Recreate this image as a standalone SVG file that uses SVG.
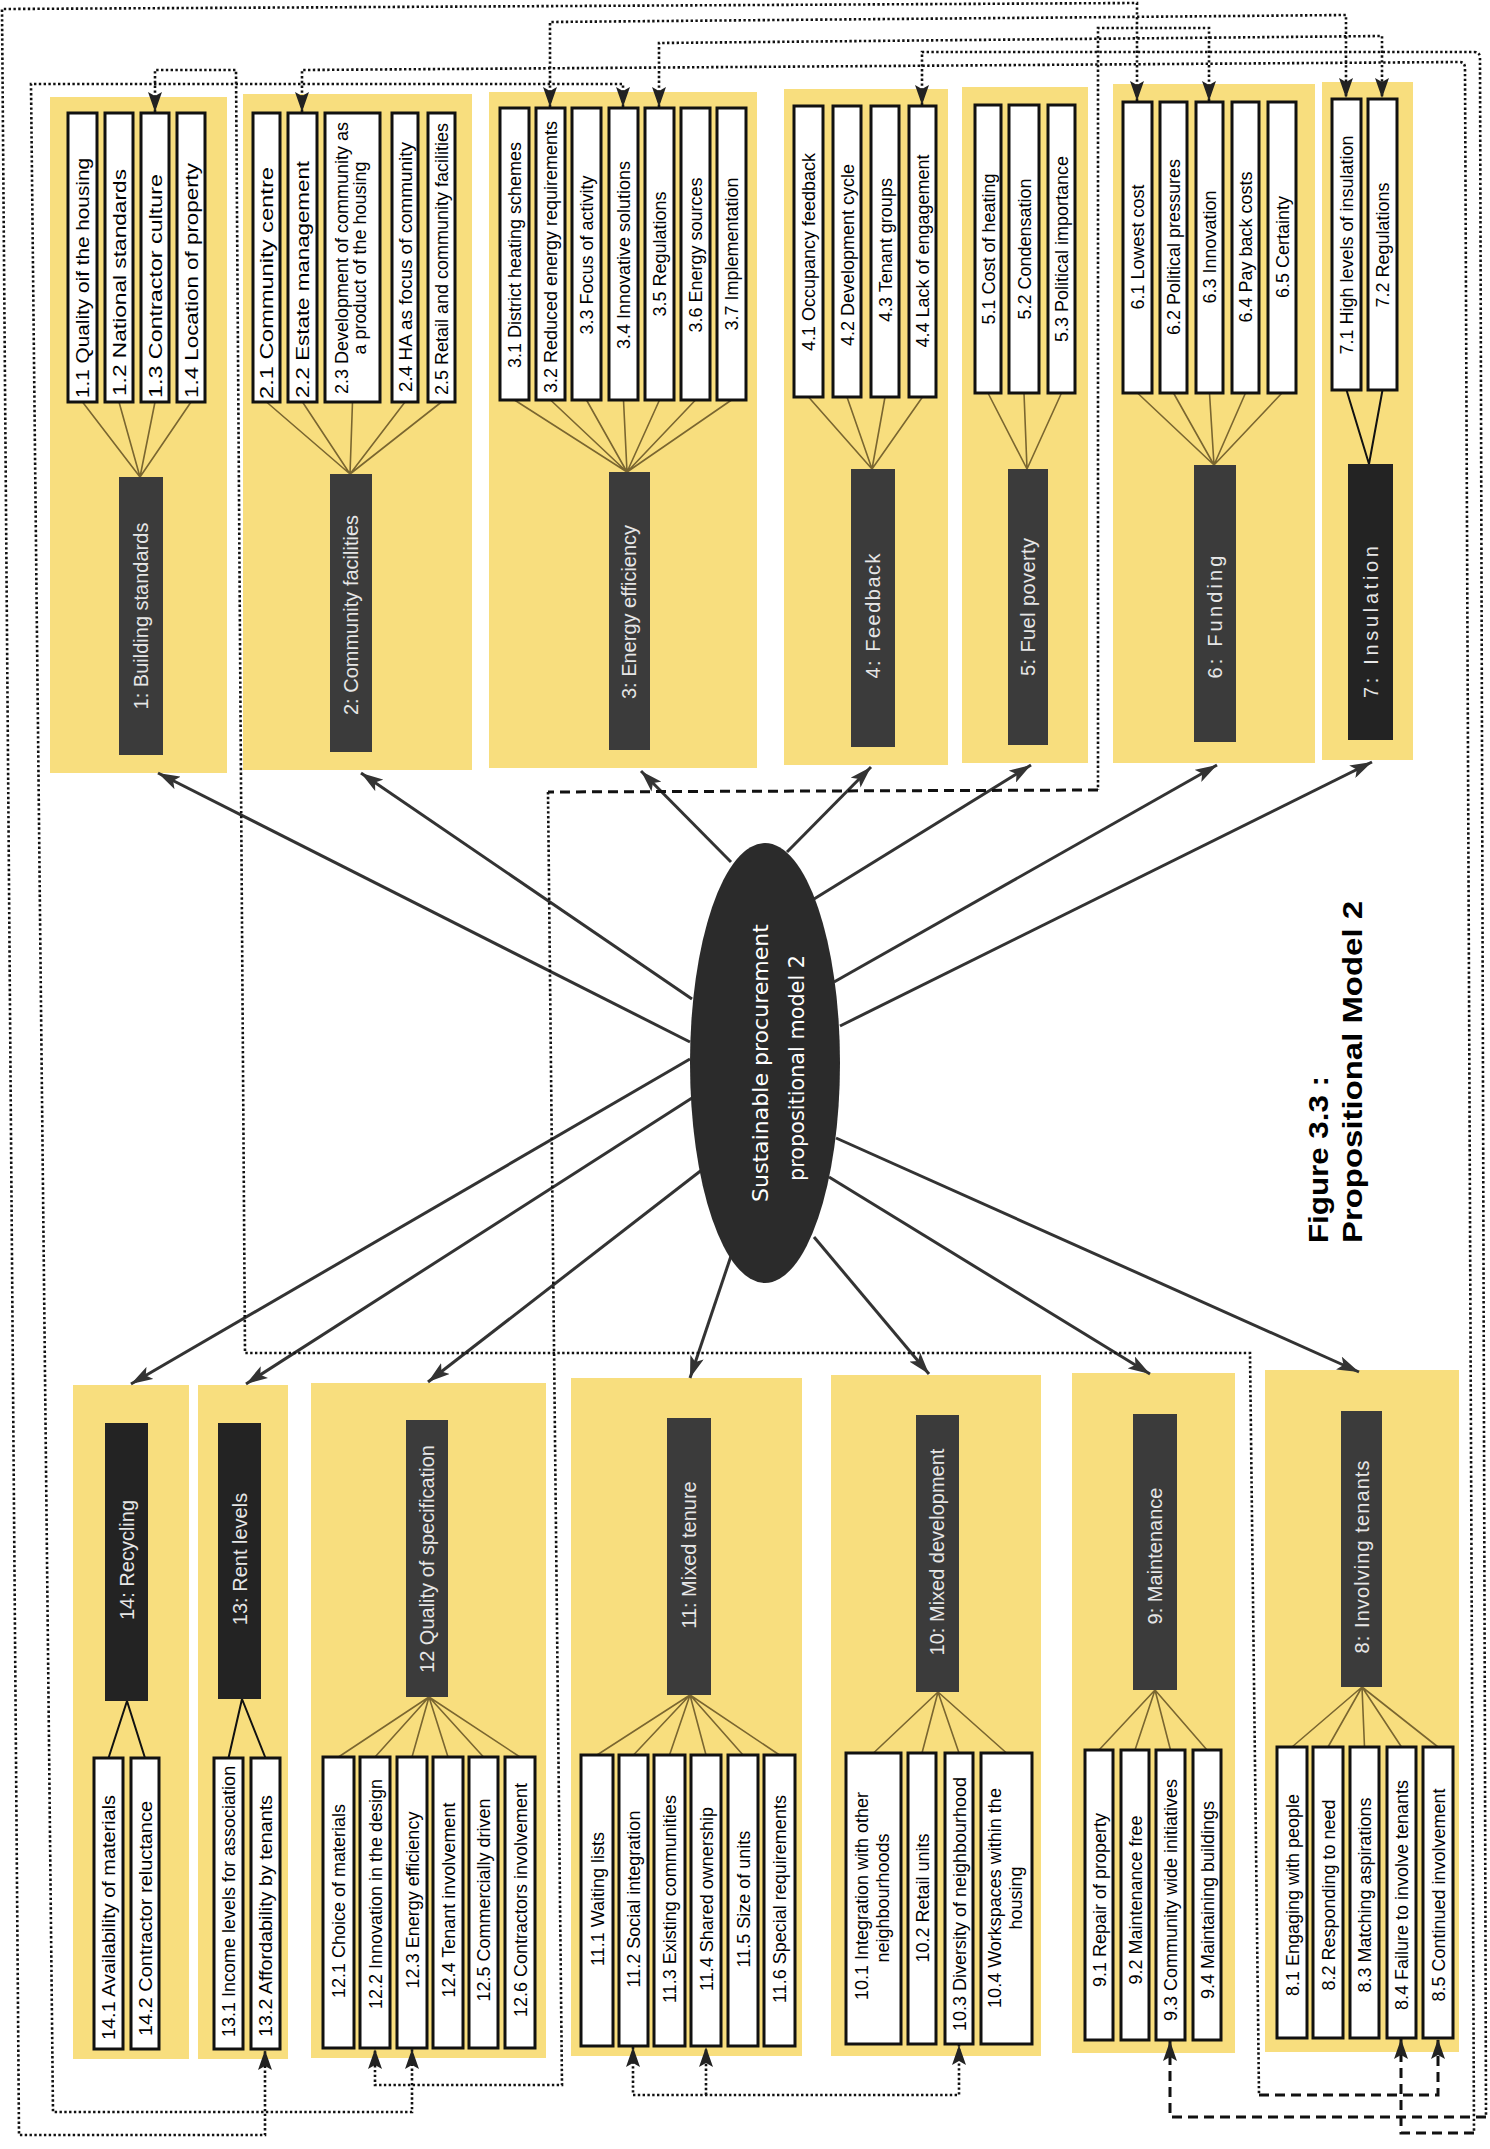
<svg xmlns="http://www.w3.org/2000/svg" width="1490" height="2149" viewBox="0 0 1490 2149">
<style>
.bg{fill:#ffffff}
.panel{fill:#f8de7e}
.item{fill:#ffffff;stroke:#111;stroke-width:3}
.dark{fill:#3b3b3b}
.dark2{fill:#232323}
.t{font-family:"Liberation Sans",Arial,sans-serif;font-size:18px;fill:#000}
.m{text-anchor:middle}
.lab{font-family:"Liberation Sans",Arial,sans-serif;font-size:20px;fill:#e6e6e6;text-anchor:middle}
.fan{stroke:#7a6630;stroke-width:1.6;fill:none}
.fanb{stroke:#111;stroke-width:2;fill:none}
.arr{stroke:#333;stroke-width:3;fill:none;marker-end:url(#ah)}
.dot{stroke:#111;stroke-width:2.6;stroke-dasharray:2.4 2.4;fill:none}
.dash{stroke:#111;stroke-width:3;stroke-dasharray:10 6;fill:none}
.s{marker-start:url(#dh)}
.e{marker-end:url(#dh)}
.ctr{font-family:"DejaVu Sans",Verdana,sans-serif;font-size:22px;fill:#fff;text-anchor:middle}
.ttl{font-family:"Liberation Sans",Arial,sans-serif;font-size:28px;font-weight:bold;fill:#000}
</style>
<defs>
<marker id="ah" viewBox="0 0 22 14" refX="22" refY="7" markerWidth="22" markerHeight="14" markerUnits="userSpaceOnUse" orient="auto"><path d="M0,0 L22,7 L0,14 L5,7 z" fill="#333"/></marker>
<marker id="dh" viewBox="0 0 20 14" refX="20" refY="7" markerWidth="20" markerHeight="14" markerUnits="userSpaceOnUse" orient="auto-start-reverse"><path d="M0,0 L20,7 L0,14 L4,7 z" fill="#222"/></marker>
</defs>
<rect class="bg" x="0" y="0" width="1490" height="2149"/>

<!-- Panel 1 -->
<g id="node-1">
<rect class="panel" x="50" y="97" width="177" height="676"/>
<path class="fan" d="M82.5,402 L140,477 M119,402 L140,477 M155,402 L140,477 M191,402 L140,477"/>
<rect class="dark" x="119" y="477" width="44" height="278"/>
<text class="lab" transform="translate(148,616) rotate(-90)">1: Building standards</text>
<rect class="item" x="68" y="113" width="29" height="289"/>
<rect class="item" x="105" y="113" width="28" height="289"/>
<rect class="item" x="141" y="113" width="28" height="289"/>
<rect class="item" x="177" y="113" width="28" height="289"/>
<text class="t" transform="translate(89,398) rotate(-90)" textLength="240" lengthAdjust="spacingAndGlyphs">1.1 Quality oif the housing</text>
<text class="t" transform="translate(125.5,396) rotate(-90)" textLength="227" lengthAdjust="spacingAndGlyphs">1.2 National standards</text>
<text class="t" transform="translate(161.5,398) rotate(-90)" textLength="224" lengthAdjust="spacingAndGlyphs">1.3 Contractor culture</text>
<text class="t" transform="translate(197.5,398) rotate(-90)" textLength="235" lengthAdjust="spacingAndGlyphs">1.4 Location of property</text>
</g>

<!-- Panel 2 -->
<g id="node-2">
<rect class="panel" x="243" y="94" width="229" height="676"/>
<path class="fan" d="M266.5,402 L350,474 M302.5,402 L350,474 M352.5,402 L350,474 M405,402 L350,474 M441.5,402 L350,474"/>
<rect class="dark" x="330" y="474" width="42" height="278"/>
<text class="lab" transform="translate(358,615) rotate(-90)">2: Community facilities</text>
<rect class="item" x="253" y="113" width="27" height="289"/>
<rect class="item" x="288" y="113" width="29" height="289"/>
<rect class="item" x="325" y="113" width="55" height="289"/>
<rect class="item" x="392" y="113" width="26" height="289"/>
<rect class="item" x="428" y="113" width="27" height="289"/>
<text class="t" transform="translate(273,399) rotate(-90)" textLength="232" lengthAdjust="spacingAndGlyphs">2.1 Community centre</text>
<text class="t" transform="translate(309,398) rotate(-90)" textLength="237" lengthAdjust="spacingAndGlyphs">2.2 Estate management</text>
<text class="t m" transform="translate(348,258) rotate(-90)">2.3 Development of community as</text>
<text class="t m" transform="translate(366,258) rotate(-90)">a product of the housing</text>
<text class="t" transform="translate(411.5,392) rotate(-90)" textLength="250" lengthAdjust="spacingAndGlyphs">2.4 HA as focus of community</text>
<text class="t" transform="translate(448,395) rotate(-90)">2.5 Retail and community facilities</text>
</g>

<!-- Panel 3 -->
<g id="node-3">
<rect class="panel" x="489" y="92" width="268" height="676"/>
<path class="fan" d="M514.5,400 L627,472 M550.5,400 L627,472 M586.5,400 L627,472 M623.5,400 L627,472 M659.5,400 L627,472 M695.5,400 L627,472 M731.5,400 L627,472"/>
<rect class="dark" x="609" y="472" width="41" height="278"/>
<text class="lab" transform="translate(636,612) rotate(-90)">3: Energy efficiency</text>
<rect class="item" x="500" y="108" width="29" height="292"/>
<rect class="item" x="536" y="108" width="29" height="292"/>
<rect class="item" x="572" y="108" width="29" height="292"/>
<rect class="item" x="609" y="108" width="29" height="292"/>
<rect class="item" x="645" y="108" width="29" height="292"/>
<rect class="item" x="681" y="108" width="29" height="292"/>
<rect class="item" x="717" y="108" width="29" height="292"/>
<text class="t m" transform="translate(521,255) rotate(-90)">3.1 District heating schemes</text>
<text class="t m" transform="translate(557,257) rotate(-90)">3.2 Reduced energy requirements</text>
<text class="t m" transform="translate(593,255) rotate(-90)">3.3 Focus of activity</text>
<text class="t m" transform="translate(630,255) rotate(-90)">3.4 Innovative solutions</text>
<text class="t m" transform="translate(666,254) rotate(-90)">3.5 Regulations</text>
<text class="t m" transform="translate(702,255) rotate(-90)">3.6 Energy sources</text>
<text class="t m" transform="translate(738,254) rotate(-90)">3.7 Implementation</text>
</g>

<!-- Panel 4 -->
<g id="node-4">
<rect class="panel" x="784" y="89" width="164" height="676"/>
<path class="fan" d="M808.5,397 L872,469 M847,397 L872,469 M885,397 L872,469 M922.5,397 L872,469"/>
<rect class="dark" x="851" y="469" width="44" height="278"/>
<text class="lab" transform="translate(880,616) rotate(-90)" textLength="125" lengthAdjust="spacing">4: Feedback</text>
<rect class="item" x="794" y="106" width="29" height="291"/>
<rect class="item" x="833" y="106" width="28" height="291"/>
<rect class="item" x="871" y="106" width="28" height="291"/>
<rect class="item" x="909" y="106" width="27" height="291"/>
<text class="t m" transform="translate(815,252) rotate(-90)">4.1 Occupancy feedback</text>
<text class="t m" transform="translate(853.5,255) rotate(-90)">4.2 Development cycle</text>
<text class="t m" transform="translate(891.5,250) rotate(-90)">4.3 Tenant groups</text>
<text class="t m" transform="translate(929,251) rotate(-90)">4.4 Lack of engagement</text>
</g>

<!-- Panel 5 -->
<g id="node-5">
<rect class="panel" x="962" y="87" width="126" height="676"/>
<path class="fan" d="M988,393 L1027,469 M1024,393 L1027,469 M1061.5,393 L1027,469"/>
<rect class="dark" x="1008" y="469" width="40" height="276"/>
<text class="lab" transform="translate(1035,607) rotate(-90)" textLength="138" lengthAdjust="spacing">5: Fuel poverty</text>
<rect class="item" x="975" y="105" width="26" height="288"/>
<rect class="item" x="1009" y="105" width="30" height="288"/>
<rect class="item" x="1048" y="105" width="27" height="288"/>
<text class="t m" transform="translate(994.5,249) rotate(-90)">5.1 Cost of heating</text>
<text class="t m" transform="translate(1030.5,249) rotate(-90)">5.2 Condensation</text>
<text class="t m" transform="translate(1068,249) rotate(-90)">5.3 Political importance</text>
</g>

<!-- Panel 6 -->
<g id="node-6">
<rect class="panel" x="1113" y="84" width="202" height="679"/>
<path class="fan" d="M1137.5,393 L1214,465 M1173.5,393 L1214,465 M1209.5,393 L1214,465 M1245.5,393 L1214,465 M1282,393 L1214,465"/>
<rect class="dark" x="1194" y="465" width="42" height="277"/>
<text class="lab" transform="translate(1222,617) rotate(-90)" textLength="123" lengthAdjust="spacing">6: Funding</text>
<rect class="item" x="1123" y="102" width="29" height="291"/>
<rect class="item" x="1160" y="102" width="27" height="291"/>
<rect class="item" x="1196" y="102" width="27" height="291"/>
<rect class="item" x="1232" y="102" width="27" height="291"/>
<rect class="item" x="1268" y="102" width="28" height="291"/>
<text class="t m" transform="translate(1144,247) rotate(-90)">6.1 Lowest cost</text>
<text class="t m" transform="translate(1180,247) rotate(-90)">6.2 Political pressures</text>
<text class="t m" transform="translate(1216,247) rotate(-90)">6.3 Innovation</text>
<text class="t m" transform="translate(1252,247) rotate(-90)">6.4 Pay back costs</text>
<text class="t m" transform="translate(1288.5,247) rotate(-90)">6.5 Certainty</text>
</g>

<!-- Panel 7 -->
<g id="node-7">
<rect class="panel" x="1322" y="82" width="91" height="678"/>
<path class="fanb" d="M1346.5,390 L1369,464 M1382.5,390 L1369,464"/>
<rect class="dark2" x="1348" y="464" width="45" height="276"/>
<text class="lab" transform="translate(1378,622) rotate(-90)" textLength="152" lengthAdjust="spacing">7: Insulation</text>
<rect class="item" x="1332" y="99" width="29" height="291"/>
<rect class="item" x="1368" y="99" width="29" height="291"/>
<text class="t m" transform="translate(1353,245) rotate(-90)">7.1 High levels of insulation</text>
<text class="t m" transform="translate(1389,245) rotate(-90)">7.2 Regulations</text>
</g>

<!-- Panel 14 -->
<g id="node-14">
<rect class="panel" x="73" y="1385" width="116" height="674"/>
<path class="fanb" d="M108.5,1758 L127,1701 M145,1758 L127,1701"/>
<rect class="dark2" x="105" y="1423" width="43" height="278"/>
<text class="lab" transform="translate(134,1560) rotate(-90)">14: Recycling</text>
<rect class="item" x="94" y="1758" width="29" height="291"/>
<rect class="item" x="131" y="1758" width="28" height="291"/>
<text class="t" transform="translate(115,2040) rotate(-90)" textLength="245" lengthAdjust="spacingAndGlyphs">14.1 Availability of materials</text>
<text class="t" transform="translate(151.5,2036) rotate(-90)" textLength="235" lengthAdjust="spacingAndGlyphs">14.2 Contractor reluctance</text>
</g>

<!-- Panel 13 -->
<g id="node-13">
<rect class="panel" x="198" y="1385" width="90" height="674"/>
<path class="fanb" d="M228.5,1758 L242,1699 M265.5,1758 L242,1699"/>
<rect class="dark2" x="218" y="1423" width="43" height="276"/>
<text class="lab" transform="translate(247,1559) rotate(-90)">13: Rent levels</text>
<rect class="item" x="214" y="1758" width="29" height="291"/>
<rect class="item" x="251" y="1758" width="29" height="291"/>
<text class="t" transform="translate(235,2037) rotate(-90)">13.1 Income levels for association</text>
<text class="t" transform="translate(272,2037) rotate(-90)" textLength="242" lengthAdjust="spacingAndGlyphs">13.2 Affordability by tenants</text>
</g>

<!-- Panel 12 -->
<g id="node-12">
<rect class="panel" x="311" y="1383" width="235" height="675"/>
<path class="fan" d="M338.5,1757 L429,1697 M375,1757 L429,1697 M412,1757 L429,1697 M448,1757 L429,1697 M483.5,1757 L429,1697 M520,1757 L429,1697"/>
<rect class="dark" x="406" y="1420" width="42" height="277"/>
<text class="lab" transform="translate(434,1559) rotate(-90)">12 Quality of specification</text>
<rect class="item" x="323" y="1757" width="31" height="291"/>
<rect class="item" x="360" y="1757" width="30" height="291"/>
<rect class="item" x="397" y="1757" width="30" height="291"/>
<rect class="item" x="433" y="1757" width="30" height="291"/>
<rect class="item" x="469" y="1757" width="29" height="291"/>
<rect class="item" x="505" y="1757" width="30" height="291"/>
<text class="t m" transform="translate(345,1901) rotate(-90)">12.1 Choice of materials</text>
<text class="t m" transform="translate(381.5,1894) rotate(-90)">12.2 Innovation in the design</text>
<text class="t m" transform="translate(418.5,1900) rotate(-90)">12.3 Energy efficiency</text>
<text class="t m" transform="translate(454.5,1900) rotate(-90)">12.4 Tenant involvement</text>
<text class="t m" transform="translate(490,1900) rotate(-90)">12.5 Commercially driven</text>
<text class="t m" transform="translate(526.5,1900) rotate(-90)">12.6 Contractors involvement</text>
</g>

<!-- Panel 11 -->
<g id="node-11">
<rect class="panel" x="571" y="1378" width="231" height="678"/>
<path class="fan" d="M597,1755 L690,1695 M633.5,1755 L690,1695 M669.5,1755 L690,1695 M706,1755 L690,1695 M743,1755 L690,1695 M779.5,1755 L690,1695"/>
<rect class="dark" x="667" y="1418" width="44" height="277"/>
<text class="lab" transform="translate(696,1555) rotate(-90)">11: Mixed tenure</text>
<rect class="item" x="581" y="1755" width="32" height="291"/>
<rect class="item" x="619" y="1755" width="29" height="291"/>
<rect class="item" x="654" y="1755" width="31" height="291"/>
<rect class="item" x="691" y="1755" width="30" height="291"/>
<rect class="item" x="728" y="1755" width="30" height="291"/>
<rect class="item" x="764" y="1755" width="31" height="291"/>
<text class="t m" transform="translate(603.5,1899) rotate(-90)">11.1 Waiting lists</text>
<text class="t m" transform="translate(640,1899) rotate(-90)">11.2 Social integration</text>
<text class="t m" transform="translate(676,1899) rotate(-90)">11.3 Existing communities</text>
<text class="t m" transform="translate(712.5,1899) rotate(-90)">11.4 Shared ownership</text>
<text class="t m" transform="translate(749.5,1899) rotate(-90)">11.5 Size of units</text>
<text class="t m" transform="translate(786,1899) rotate(-90)">11.6 Special requirements</text>
</g>

<!-- Panel 10 -->
<g id="node-10">
<rect class="panel" x="831" y="1375" width="210" height="681"/>
<path class="fan" d="M873.5,1753 L938,1692 M922,1753 L938,1692 M959,1753 L938,1692 M1006.5,1753 L938,1692"/>
<rect class="dark" x="916" y="1415" width="43" height="277"/>
<text class="lab" transform="translate(944,1552) rotate(-90)">10: Mixed development</text>
<rect class="item" x="846" y="1753" width="55" height="291"/>
<rect class="item" x="908" y="1753" width="28" height="291"/>
<rect class="item" x="945" y="1753" width="28" height="291"/>
<rect class="item" x="981" y="1753" width="51" height="291"/>
<text class="t m" transform="translate(868,1896) rotate(-90)">10.1 Integration with other</text>
<text class="t m" transform="translate(889,1898) rotate(-90)">neighbourhoods</text>
<text class="t m" transform="translate(928.5,1898) rotate(-90)">10.2 Retail units</text>
<text class="t m" transform="translate(965.5,1904) rotate(-90)">10.3 Diversity of neighbourhood</text>
<text class="t m" transform="translate(1001,1898) rotate(-90)">10.4 Workspaces within the</text>
<text class="t m" transform="translate(1022,1898) rotate(-90)">housing</text>
</g>

<!-- Panel 9 -->
<g id="node-9">
<rect class="panel" x="1072" y="1373" width="163" height="680"/>
<path class="fan" d="M1099,1750 L1155,1690 M1135,1750 L1155,1690 M1170.5,1750 L1155,1690 M1207,1750 L1155,1690"/>
<rect class="dark" x="1133" y="1414" width="44" height="276"/>
<text class="lab" transform="translate(1162,1556) rotate(-90)">9: Maintenance</text>
<rect class="item" x="1085" y="1750" width="28" height="290"/>
<rect class="item" x="1121" y="1750" width="28" height="290"/>
<rect class="item" x="1156" y="1750" width="29" height="290"/>
<rect class="item" x="1193" y="1750" width="28" height="290"/>
<text class="t m" transform="translate(1105.5,1900) rotate(-90)">9.1 Repair of property</text>
<text class="t m" transform="translate(1141.5,1900) rotate(-90)">9.2 Maintenance free</text>
<text class="t m" transform="translate(1177,1900) rotate(-90)">9.3 Community wide initiatives</text>
<text class="t m" transform="translate(1213.5,1900) rotate(-90)">9.4 Maintaining buildings</text>
</g>

<!-- Panel 8 -->
<g id="node-8">
<rect class="panel" x="1265" y="1370" width="194" height="682"/>
<path class="fan" d="M1292,1747 L1362,1687 M1328,1747 L1362,1687 M1364.5,1747 L1362,1687 M1401.5,1747 L1362,1687 M1438,1747 L1362,1687"/>
<rect class="dark" x="1341" y="1411" width="41" height="276"/>
<text class="lab" transform="translate(1369,1557) rotate(-90)" textLength="193" lengthAdjust="spacing">8: Involving tenants</text>
<rect class="item" x="1277" y="1747" width="30" height="291"/>
<rect class="item" x="1313" y="1747" width="30" height="291"/>
<rect class="item" x="1350" y="1747" width="29" height="291"/>
<rect class="item" x="1387" y="1747" width="29" height="291"/>
<rect class="item" x="1423" y="1747" width="30" height="291"/>
<text class="t m" transform="translate(1298.5,1895) rotate(-90)">8.1 Engaging with people</text>
<text class="t m" transform="translate(1334.5,1895) rotate(-90)">8.2 Responding to need</text>
<text class="t m" transform="translate(1371,1895) rotate(-90)">8.3 Matching aspirations</text>
<text class="t m" transform="translate(1408,1895) rotate(-90)">8.4 Failure to involve tenants</text>
<text class="t m" transform="translate(1444.5,1895) rotate(-90)">8.5 Continued involvement</text>
</g>

<!-- Connectors -->
<g id="connectors">
<path class="arr" d="M690,1042 L158,773"/>
<path class="arr" d="M692,999 L361,773"/>
<path class="arr" d="M731,862 L641,771"/>
<path class="arr" d="M787,852 L871,767"/>
<path class="arr" d="M814,899 L1031,765"/>
<path class="arr" d="M834,982 L1217,765"/>
<path class="arr" d="M840,1026 L1372,762"/>
<path class="arr" d="M690,1059 L131,1384"/>
<path class="arr" d="M692,1098 L246,1384"/>
<path class="arr" d="M703,1169 L428,1382"/>
<path class="arr" d="M731,1256 L690,1378"/>
<path class="arr" d="M814,1237 L929,1374"/>
<path class="arr" d="M829,1177 L1150,1374"/>
<path class="arr" d="M836,1138 L1359,1372"/>

<path class="dot s e" d="M1137,101 L1137,3 L2,9 L19,2135 L265,2135 L265,2050"/>
<path class="dot s e" d="M550,107 L550,22 L1346,15 L1346,98"/>
<path class="dot s e" d="M659,107 L659,43 L1382,36 L1382,98"/>
<path class="dot s" d="M1209,101 L1209,28 L1098,28 L1098,790"/>
<path class="dash" d="M1098,790 L548,792"/>
<path class="dot e" d="M548,792 L562,2085 L375,2085 L375,2049"/>
<path class="dot s" d="M922,105 L922,52 L1474,52 Q1480,52 1480,58 L1486,2117"/>
<path class="dash e" d="M1486,2117 L1170,2117 L1170,2041"/>
<path class="dot s" d="M302,112 L302,70 L1459,62 Q1465,62 1465,68 L1474,2133"/>
<path class="dash e" d="M1474,2133 L1401,2133 L1401,2039"/>
<path class="dot s e" d="M623,107 L623,84 L31,84 L53,2112 L412,2112 L412,2049"/>
<path class="dot s" d="M155,112 L155,70 L236,70 L245,1353 L1250,1353 L1259,2095"/>
<path class="dash e" d="M1259,2095 L1438,2095 L1438,2039"/>
<path class="dot s e" d="M633,2047 L633,2095 L959,2095 L959,2045"/>
<path class="dot e" d="M706,2095 L706,2047"/>
</g>

<!-- Centre -->
<g id="node-centre">
<ellipse cx="765" cy="1063" rx="75" ry="220" fill="#2b2b2b"/>
<text class="ctr" transform="translate(768,1063) rotate(-90)" textLength="278" lengthAdjust="spacingAndGlyphs">Sustainable procurement</text>
<text class="ctr" transform="translate(804,1068) rotate(-90)" textLength="226" lengthAdjust="spacingAndGlyphs">propositional model 2</text>
</g>

<!-- Title -->
<g id="title">
<text class="ttl" transform="translate(1328,1243) rotate(-90)" textLength="167" lengthAdjust="spacingAndGlyphs">Figure 3.3 :</text>
<text class="ttl" transform="translate(1362,1243) rotate(-90)" textLength="342" lengthAdjust="spacingAndGlyphs">Propositional Model 2</text>
</g>
</svg>
